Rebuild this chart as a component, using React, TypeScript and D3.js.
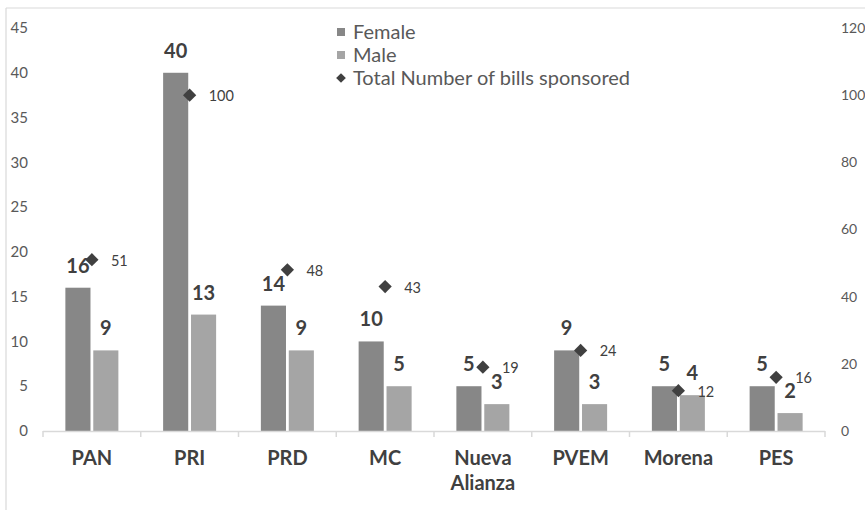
import React from 'react';
import * as d3 from 'd3';

const parties = ['PAN', 'PRI', 'PRD', 'MC', 'Nueva Alianza', 'PVEM', 'Morena', 'PES'];
const female = [16, 40, 14, 10, 5, 9, 5, 5];
const male = [9, 13, 9, 5, 3, 3, 4, 2];
const totalBills = [51, 100, 48, 43, 19, 24, 12, 16];
const leftTicks = [0, 5, 10, 15, 20, 25, 30, 35, 40, 45];
const rightTicks = [0, 20, 40, 60, 80, 100, 120];

const W = 865;
const H = 510;
const FONT = 'Lato, "Open Sans", sans-serif';
const FEMALE_COLOR = '#878787';
const MALE_COLOR = '#a5a5a5';
const DARK = '#404040';
const TICK_TEXT = '#595959';
const AXIS_GRAY = '#d9d9d9';

export default function App() {
  const x = d3.scaleBand<string>().domain(parties).range([43, 825]);
  const yL = d3.scaleLinear().domain([0, 45]).range([431, 28]);
  const yR = d3.scaleLinear().domain([0, 120]).range([431, 28]);
  const bw = x.bandwidth();
  const series = d3.scaleBand<string>()
    .domain(['Female', 'Male'])
    .range([bw / 2 - 26.5, bw / 2 + 26.5])
    .paddingInner(0.1);
  const barW = series.bandwidth();
  const diamond = d3.symbol().type(d3.symbolDiamond2).size(112)();
  const legendDiamond = d3.symbol().type(d3.symbolDiamond2).size(60)();

  const bars = parties.flatMap((p, i) => [
    { p, key: 'Female', v: female[i], color: FEMALE_COLOR },
    { p, key: 'Male', v: male[i], color: MALE_COLOR },
  ]);

  return (
    <svg width={W} height={H} style={{ position: 'absolute', left: 0, top: 0, background: '#fff' }}>
      {/* chart frame (top + left visible) */}
      <line x1={6} x2={W} y1={8} y2={8} stroke={AXIS_GRAY} strokeWidth={1.2} />
      <line x1={6} x2={6} y1={8} y2={H} stroke={AXIS_GRAY} strokeWidth={1.2} />

      {/* left axis labels */}
      {leftTicks.map(t => (
        <text key={'l' + t} x={28} y={yL(t)} dy="0.35em" textAnchor="end"
          fontFamily={FONT} fontSize={15} fill={TICK_TEXT}>{t}</text>
      ))}
      {/* right axis labels */}
      {rightTicks.map(t => (
        <text key={'r' + t} x={841} y={yR(t)} dy="0.35em" textAnchor="start"
          fontFamily={FONT} fontSize={14} fill={TICK_TEXT}>{t}</text>
      ))}

      {/* bars */}
      {bars.map(b => (
        <rect key={b.p + b.key}
          x={(x(b.p) || 0) + (series(b.key) || 0)}
          y={yL(b.v)}
          width={barW}
          height={yL(0) - yL(b.v)}
          fill={b.color} />
      ))}

      {/* x axis */}
      <line x1={43} x2={825} y1={yL(0) + 0.5} y2={yL(0) + 0.5} stroke={AXIS_GRAY} strokeWidth={1.5} />
      {[...parties.map(p => x(p) || 0), 825].map((tx, i) => (
        <line key={'t' + i} x1={tx} x2={tx} y1={yL(0)} y2={yL(0) + 6} stroke={AXIS_GRAY} strokeWidth={1.5} />
      ))}

      {/* bar labels */}
      {bars.map(b => (
        <text key={'bl' + b.p + b.key}
          x={(x(b.p) || 0) + (series(b.key) || 0) + barW / 2}
          y={yL(b.v) - 15}
          textAnchor="middle" fontFamily={FONT} fontWeight={700} fontSize={20} fill={DARK}>{b.v}</text>
      ))}

      {/* total diamonds */}
      {parties.map((p, i) => (
        <g key={'d' + p}>
          <path d={diamond || ''} transform={`translate(${(x(p) || 0) + bw / 2},${yR(totalBills[i])})`} fill={DARK} />
          <text x={(x(p) || 0) + bw / 2 + 19} y={yR(totalBills[i]) + 1} dy="0.35em"
            fontFamily={FONT} fontSize={14.5} fill={DARK}>{totalBills[i]}</text>
        </g>
      ))}

      {/* category labels */}
      {parties.map(p => {
        const words = p === 'Nueva Alianza' ? ['Nueva', 'Alianza'] : [p];
        return (
          <text key={'c' + p} x={(x(p) || 0) + bw / 2} y={465}
            textAnchor="middle" fontFamily={FONT} fontWeight={700} fontSize={20} fill={DARK}>
            {words.map((w, j) => (
              <tspan key={w} x={(x(p) || 0) + bw / 2} dy={j === 0 ? 0 : 25}>{w}</tspan>
            ))}
          </text>
        );
      })}

      {/* legend */}
      <g fontFamily={FONT} fontSize={20} fill={TICK_TEXT}>
        <rect x={337} y={28} width={8} height={8} fill={FEMALE_COLOR} />
        <text x={353} y={32} dy="0.35em">Female</text>
        <rect x={337} y={51} width={8} height={8} fill={MALE_COLOR} />
        <text x={353} y={55} dy="0.35em">Male</text>
        <path d={legendDiamond || ''} transform="translate(341,78)" fill={DARK} />
        <text x={353} y={78} dy="0.35em">Total Number of bills sponsored</text>
      </g>
    </svg>
  );
}
